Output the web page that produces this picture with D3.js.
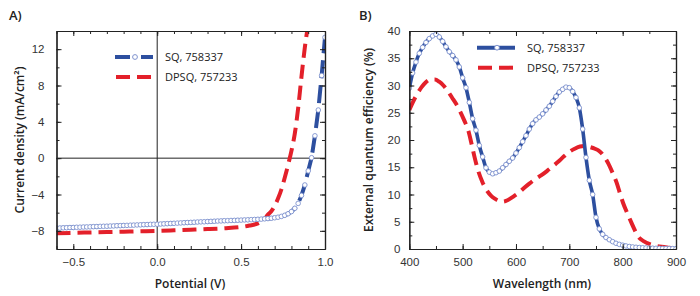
<html lang="en">
<head>
<meta charset="utf-8">
<style type="text/css">
    body { margin: 0; background: #fff; }
    svg { font-family: "Open Sans", sans-serif; }
    .tick text { font-size: 11.5px; fill: #333; }
    .frame path.domain { stroke: #222; stroke-width: 1.2px; }
    .frame .tick line { stroke: #222; stroke-width: 1px; }
    .title { font-size: 12px; font-weight: 600; fill: #222; }
    .panel { font-size: 13px; font-weight: 600; fill: #222; }
    .legend text { font-size: 11px; fill: #222; }
</style>
</head>
<body>
<svg width="700" height="296"></svg>

<script src="https://cdnjs.cloudflare.com/ajax/libs/d3/7.8.5/d3.min.js"></script>
<script type="text/javascript">
    // ---- data: J-V curves (panel A)
    var sqV = [-0.60,-0.58,-0.56,-0.54,-0.52,-0.50,-0.48,-0.46,-0.44,-0.42,-0.40,-0.38,-0.36,-0.34,-0.32,-0.30,
        -0.28,-0.26,-0.24,-0.22,-0.20,-0.18,-0.16,-0.14,-0.12,-0.10,-0.08,-0.06,-0.04,-0.02,0.00,0.02,0.04,0.06,
        0.08,0.10,0.12,0.14,0.16,0.18,0.20,0.22,0.24,0.26,0.28,0.30,0.32,0.34,0.36,0.38,0.40,0.42,0.44,0.46,0.48,
        0.50,0.52,0.54,0.56,0.58,0.60,0.62,0.64,0.66,0.68,0.70,0.72,0.74,0.76,0.78,0.80,0.82,0.84,0.86,0.88,0.90,
        0.92,0.94,0.96,0.98,1.00];
    var sqJ = [-7.70,-7.69,-7.67,-7.66,-7.64,-7.63,-7.61,-7.60,-7.58,-7.57,-7.56,-7.54,-7.53,-7.51,-7.50,-7.49,
        -7.47,-7.46,-7.44,-7.43,-7.41,-7.40,-7.38,-7.37,-7.35,-7.34,-7.32,-7.31,-7.29,-7.28,-7.27,-7.25,-7.23,-7.21,
        -7.19,-7.17,-7.15,-7.13,-7.11,-7.09,-7.07,-7.05,-7.03,-7.01,-7.00,-6.98,-6.96,-6.94,-6.92,-6.91,-6.89,-6.88,
        -6.86,-6.85,-6.83,-6.82,-6.80,-6.79,-6.77,-6.75,-6.73,-6.71,-6.68,-6.65,-6.61,-6.56,-6.50,-6.41,-6.29,-6.12,
        -5.88,-5.52,-4.98,-4.10,-2.95,-1.40,0.05,2.46,5.30,9.10,13.30];

    var dpV = [-0.60,-0.50,-0.40,-0.30,-0.20,-0.10,0.00,0.10,0.20,0.30,0.40,0.50,0.55,0.60,0.62,0.64,0.66,0.68,
        0.70,0.72,0.74,0.76,0.78,0.80,0.82,0.84,0.86,0.88,0.90];
    var dpJ = [-8.26,-8.22,-8.18,-8.14,-8.10,-8.05,-8.00,-7.94,-7.88,-7.81,-7.72,-7.58,-7.42,-7.18,-6.98,-6.68,
        -6.22,-5.85,-5.25,-4.45,-3.45,-2.15,-0.75,0.80,2.70,5.50,9.00,12.20,14.80];

    // ---- data: EQE spectra (panel B)
    var sqWl = [400,406.25,412.5,418.75,425,431.25,437.5,443.75,450,456.25,462.5,468.75,475,481.25,487.5,493.75,
        500,506.25,512.5,518.75,525,531.25,537.5,543.75,550,556.25,562.5,568.75,575,581.25,587.5,593.75,
        600,606.25,612.5,618.75,625,631.25,637.5,643.75,650,656.25,662.5,668.75,675,681.25,687.5,693.75,
        700,706.25,712.5,718.75,725,731.25,737.5,743.75,750,756.25,762.5,768.75,775,781.25,787.5,793.75,
        800,806.25,812.5,818.75,825,831.25,837.5,843.75,850,856.25,862.5,868.75,875,881.25,887.5,893.75,900];
    var sqEqe = [29.5,32.3,34.3,35.9,37.0,37.9,38.6,39.1,39.4,38.9,38.1,37.1,36.2,35.5,34.7,33.4,
        31.4,29.6,26.9,23.9,21.8,19.0,16.9,14.9,14.1,13.8,14.0,14.3,14.9,15.5,16.1,16.7,
        17.6,18.6,19.7,20.8,22.0,23.0,23.7,24.2,24.8,25.5,26.2,27.1,28.0,28.8,29.3,29.7,
        29.6,28.9,27.8,25.9,22.0,16.8,12.6,10.0,5.8,3.7,2.7,2.1,1.7,1.35,1.05,0.85,
        0.70,0.56,0.46,0.38,0.32,0.27,0.23,0.20,0.17,0.15,0.13,0.12,0.10,0.09,0.08,0.07,0.06];

    var dpWl = [400,407,414,423,431,440,448,456,464,472,480,488,495,503,511,516,522,529,537,545,553,561,569,576,
        585,595,605,614,625,636,647,658,668,679,690,701,710,720,730,739,748,757,765,773,781,789,795,801,809,817,
        823,829,840,851,862,873,885,900];
    var dpEqe = [25.5,27.0,28.3,29.7,30.6,31.1,31.1,30.7,30.0,29.0,27.8,26.6,25.3,23.6,21.6,19.6,17.0,14.4,12.3,
        10.8,9.8,9.2,8.8,8.7,9.0,9.6,10.3,11.1,12.0,12.8,13.5,14.3,15.1,16.0,17.0,17.9,18.4,18.8,18.9,18.7,18.4,
        17.9,17.0,15.7,14.0,12.1,10.2,8.4,6.5,4.7,3.4,2.3,1.4,0.9,0.6,0.4,0.25,0.1];

    var aXTicks = [-0.5, 0.0, 0.5, 1.0];
    var aYTicks = [-8, -4, 0, 4, 8, 12];
    var bXTicks = [400, 500, 600, 700, 800, 900];
    var bYTicks = [0, 5, 10, 15, 20, 25, 30, 35, 40];

    var blue = "#2d4f9f", circ = "#7f93cf", red = "#e3202a";
    var svg = d3.select("svg");

    function frame(g, x, y, xt, yt, xMinor, yMinor, xFmt, yFmt) {
        var x0 = x.range()[0], x1 = x.range()[1], y0 = y.range()[0], y1 = y.range()[1];
        var f = g.append("g").attr("class", "frame");
        // minor ticks first, major ticks with labels on top
        f.append("g").attr("transform", "translate(0," + y0 + ")")
            .call(d3.axisBottom(x).tickValues(xMinor).tickSize(-3).tickSizeOuter(0).tickFormat(""));
        f.append("g").attr("transform", "translate(0," + y1 + ")")
            .call(d3.axisTop(x).tickValues(xMinor).tickSize(-3).tickSizeOuter(0).tickFormat(""));
        f.append("g").attr("transform", "translate(" + x0 + ",0)")
            .call(d3.axisLeft(y).tickValues(yMinor).tickSize(-3).tickSizeOuter(0).tickFormat(""));
        f.append("g").attr("transform", "translate(" + x1 + ",0)")
            .call(d3.axisRight(y).tickValues(yMinor).tickSize(-3).tickSizeOuter(0).tickFormat(""));
        f.append("g").attr("transform", "translate(0," + y0 + ")")
            .call(d3.axisBottom(x).tickValues(xt).tickSize(-5).tickSizeOuter(0).tickPadding(9).tickFormat(xFmt));
        f.append("g").attr("transform", "translate(0," + y1 + ")")
            .call(d3.axisTop(x).tickValues(xt).tickSize(-5).tickSizeOuter(0).tickFormat(""));
        f.append("g").attr("transform", "translate(" + x0 + ",0)")
            .call(d3.axisLeft(y).tickValues(yt).tickSize(-5).tickSizeOuter(0).tickPadding(yFmt.pad).tickFormat(yFmt.f));
        f.append("g").attr("transform", "translate(" + x1 + ",0)")
            .call(d3.axisRight(y).tickValues(yt).tickSize(-5).tickSizeOuter(0).tickFormat(""));
    }

    function sqLegend(g, lx, ly, dashed) {
        var l = g.append("g").attr("class", "legend");
        l.append("line").attr("x1", lx).attr("x2", lx + 38).attr("y1", ly).attr("y2", ly)
            .attr("stroke", blue).attr("stroke-width", 4)
            .attr("stroke-dasharray", dashed ? "15,11" : null);
        l.append("circle").attr("cx", lx + 20).attr("cy", ly).attr("r", 2.4)
            .attr("fill", "#fff").attr("stroke", circ).attr("stroke-width", 1);
        l.append("text").attr("x", lx + 50).attr("y", ly + 4).text("SQ, 758337");
        l.append("line").attr("x1", lx + 1).attr("x2", lx + 38).attr("y1", ly + 20).attr("y2", ly + 20)
            .attr("stroke", red).attr("stroke-width", 4).attr("stroke-dasharray", "14,7");
        l.append("text").attr("x", lx + 50).attr("y", ly + 24).text("DPSQ, 757233");
    }

    // ================= panel A =================
    var xA = d3.scaleLinear().domain([-0.6, 1.0]).range([56.5, 325]);
    var yA = d3.scaleLinear().domain([-10, 14]).range([249, 31]);
    var gA = svg.append("g");

    gA.append("defs").append("clipPath").attr("id", "clipA").append("rect")
        .attr("x", xA.range()[0]).attr("y", yA.range()[1])
        .attr("width", xA.range()[1] - xA.range()[0]).attr("height", yA.range()[0] - yA.range()[1]);

    gA.append("line").attr("x1", xA(0)).attr("x2", xA(0)).attr("y1", yA(-10)).attr("y2", yA(14))
        .attr("stroke", "#222").attr("stroke-width", 1);
    gA.append("line").attr("x1", xA(-0.6)).attr("x2", xA(1)).attr("y1", yA(0)).attr("y2", yA(0))
        .attr("stroke", "#222").attr("stroke-width", 1);

    var plotA = gA.append("g").attr("clip-path", "url(#clipA)");
    var lineA = d3.line().x(function (d) { return xA(d[0]); }).y(function (d) { return yA(d[1]); });
    var sqA = d3.zip(sqV, sqJ), dpA = d3.zip(dpV, dpJ);

    plotA.append("path").datum(dpA).attr("d", lineA.curve(d3.curveMonotoneX))
        .attr("fill", "none").attr("stroke", red).attr("stroke-width", 4).attr("stroke-dasharray", "14,7");
    plotA.append("path").datum(sqA).attr("d", lineA.curve(d3.curveLinear))
        .attr("fill", "none").attr("stroke", blue).attr("stroke-width", 4).attr("stroke-dasharray", "18,7");
    plotA.selectAll(".sqA").data(sqA).enter().append("circle")
        .attr("cx", function (d) { return xA(d[0]); })
        .attr("cy", function (d) { return yA(d[1]); })
        .attr("r", 2.3).attr("fill", "#fff").attr("stroke", circ).attr("stroke-width", 0.9);

    frame(gA, xA, yA, aXTicks, aYTicks, d3.range(-0.6, 1.001, 0.1), d3.range(-10, 14.001, 2),
        d3.format(".1f"), { pad: 12, f: d3.format("") });
    sqLegend(gA, 115, 57, true);

    gA.append("text").attr("class", "title").attr("x", 190).attr("y", 288)
        .attr("text-anchor", "middle").text("Potential (V)");
    gA.append("text").attr("class", "title").attr("transform", "translate(24,140) rotate(-90)")
        .attr("text-anchor", "middle").text("Current density (mA/cm²)");
    gA.append("text").attr("class", "panel").attr("x", 9).attr("y", 20).text("A)");

    // ================= panel B =================
    var xB = d3.scaleLinear().domain([400, 900]).range([409.3, 676]);
    var yB = d3.scaleLinear().domain([0, 40]).range([249, 31]);
    var gB = svg.append("g");

    gB.append("defs").append("clipPath").attr("id", "clipB").append("rect")
        .attr("x", xB.range()[0]).attr("y", yB.range()[1] - 4)
        .attr("width", xB.range()[1] - xB.range()[0]).attr("height", yB.range()[0] - yB.range()[1] + 4);

    var plotB = gB.append("g").attr("clip-path", "url(#clipB)");
    var lineB = d3.line().x(function (d) { return xB(d[0]); }).y(function (d) { return yB(d[1]); })
        .curve(d3.curveMonotoneX);
    var sqB = d3.zip(sqWl, sqEqe), dpB = d3.zip(dpWl, dpEqe);

    plotB.append("path").datum(dpB).attr("d", lineB)
        .attr("fill", "none").attr("stroke", red).attr("stroke-width", 4).attr("stroke-dasharray", "14,7");
    plotB.append("path").datum(sqB).attr("d", lineB)
        .attr("fill", "none").attr("stroke", blue).attr("stroke-width", 3.6);
    plotB.selectAll(".sqB").data(sqB).enter().append("circle")
        .attr("cx", function (d) { return xB(d[0]); })
        .attr("cy", function (d) { return yB(d[1]); })
        .attr("r", 2.3).attr("fill", "#fff").attr("stroke", circ).attr("stroke-width", 0.9);

    frame(gB, xB, yB, bXTicks, bYTicks, d3.range(400, 900.1, 50), d3.range(0, 40.01, 2.5),
        d3.format("d"), { pad: 9, f: d3.format("d") });
    sqLegend(gB, 477, 47.7, false);

    gB.append("text").attr("class", "title").attr("x", 542).attr("y", 288)
        .attr("text-anchor", "middle").text("Wavelength (nm)");
    gB.append("text").attr("class", "title").attr("transform", "translate(373,140) rotate(-90)")
        .attr("text-anchor", "middle").text("External quantum efficiency (%)");
    gB.append("text").attr("class", "panel").attr("x", 359).attr("y", 20).text("B)");
</script>
</body>
</html>
